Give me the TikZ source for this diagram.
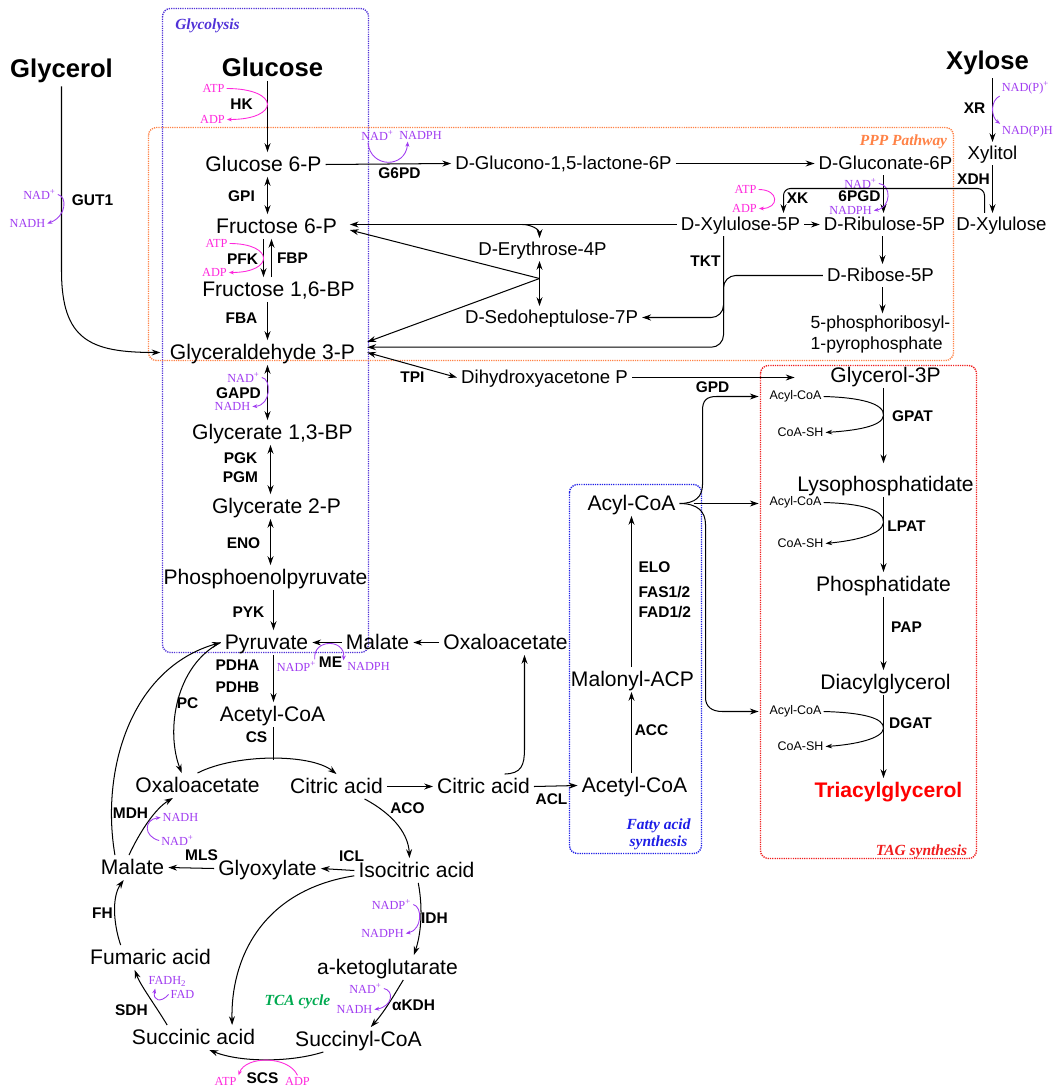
\documentclass[tikz,border=0pt]{standalone}
\usepackage{fontspec}
\setmainfont{Liberation Sans}
\newfontfamily\serifx{Liberation Serif}
\usetikzlibrary{arrows.meta,calc}
\newcommand\myfs[1]{\fontsize{#1}{#1}\selectfont}
\definecolor{glyc}{RGB}{80,50,215}
\definecolor{pppc}{RGB}{255,130,70}
\definecolor{tagc}{RGB}{240,30,30}
\definecolor{fac}{RGB}{30,30,230}
\definecolor{tcac}{RGB}{0,170,80}
\definecolor{cofp}{RGB}{160,60,240}
\definecolor{cofm}{RGB}{255,40,220}
\begin{document}
\begin{tikzpicture}[x=0.02cm,y=-0.02cm,
  >={Stealth[length=5pt,width=3.4pt]},
  met/.style={font=\myfs{12}, inner sep=2.2pt, text height=8.6pt, text depth=0.8pt},
  pmet/.style={font=\myfs{10.6}, inner sep=2.2pt, text height=7.6pt, text depth=0.7pt},
  big/.style={font=\bfseries\myfs{14.6}, inner sep=2pt},
  enz/.style={font=\bfseries\myfs{8.8}, inner sep=1pt},
  cof/.style={font=\serifx\myfs{7}, text=cofp, inner sep=1pt},
  atp/.style={cof, text=cofm},
  sml/.style={font=\myfs{7.1}, inner sep=1pt},
  boxlab/.style={font=\serifx\bfseries\itshape\myfs{8.8}},
  ln/.style={line width=0.58pt},
  carr/.style={line width=0.5pt, -{Stealth[length=2.8pt,width=2.2pt]}},
  tln/.style={line width=0.55pt, -{Stealth[length=3.8pt,width=2.6pt]}},
  pbox/.style={line width=0.8pt, dash pattern=on 0.7pt off 0.6pt, rounded corners=4.5pt}
]
\useasboundingbox (0,0) rectangle (1053,1088);
\begin{scope}[shift={(0.5,0.5)}]
% ---------- boxes ----------
\draw[pbox, draw=glyc] (162,8) rectangle (368,652);
\draw[pbox, draw=pppc] (148,127) rectangle (953,360);
\draw[pbox, draw=tagc] (760,365) rectangle (976,858);
\draw[pbox, draw=fac] (569,484) rectangle (701,853);
\node[boxlab, text=glyc] (lglyc) at (207,25) {Glycolysis};
\node[boxlab, text=pppc] (lppp) at (903,141) {PPP Pathway};
\node[boxlab, text=tagc] (ltag) at (921,851) {TAG synthesis};
\node[boxlab, text=fac, align=center, font=\serifx\bfseries\itshape\fontsize{8.8}{9.8}\selectfont] (lfa) at (658,834) {Fatty acid\\synthesis};
\node[boxlab, text=tcac] (ltca) at (297,1001) {TCA cycle};

% ---------- metabolites ----------
\node[big] (glycerol) at (61,70) {Glycerol};
\node[big] (glucose) at (272,67) {Glucose};
\node[big] (xylose) at (987,62) {Xylose};

\node[met] (g6p) at (263,164) {Glucose 6-P};
\node[met] (f6p) at (276,226) {Fructose 6-P};
\node[met] (fbp) at (278,289) {Fructose 1,6-BP};
\node[met] (g3p) at (262,352) {Glyceraldehyde 3-P};
\node[met] (g13bp) at (272,432) {Glycerate 1,3-BP};
\node[met] (g2p) at (276,506) {Glycerate 2-P};
\node[met] (pep) at (265,577) {Phosphoenolpyruvate};
\node[met] (pyr) at (266,642) {Pyruvate};
\node[met] (accoa) at (272,714) {Acetyl-CoA};
\node[met] (oaa) at (197,785) {Oxaloacetate};
\node[met] (cit) at (336,786) {Citric acid};
\node[met] (icit) at (416,870) {Isocitric acid};
\node[met] (glyox) at (267,868) {Glyoxylate};
\node[met] (mal) at (132,867) {Malate};
\node[met] (fum) at (150,957) {Fumaric acid};
\node[met] (akg) at (387,967) {a-ketoglutarate};
\node[met] (sucoa) at (358,1039) {Succinyl-CoA};
\node[met] (succ) at (193,1037) {Succinic acid};
\node[met] (mal2) at (377,642) {Malate};
\node[met] (oaa2) at (505,642) {Oxaloacetate};
\node[met] (cit2) at (483,786) {Citric acid};
\node[met] (accoa2) at (634,785) {Acetyl-CoA};
\node[met] (malacp) at (632,679) {Malonyl-ACP};
\node[met] (acyl) at (631,503) {Acyl-CoA};

\node[pmet] (glac) at (563,163) {D-Glucono-1,5-lactone-6P};
\node[pmet] (gcn) at (885,163) {D-Gluconate-6P};
\node[pmet] (xu5p) at (740,224) {D-Xylulose-5P};
\node[pmet] (ru5p) at (884,224) {D-Ribulose-5P};
\node[pmet] (xylulose) at (1001,224) {D-Xylulose};
\node[pmet] (xylitol) at (992,153) {Xylitol};
\node[pmet] (e4p) at (542,249) {D-Erythrose-4P};
\node[pmet] (s7p) at (551,317) {D-Sedoheptulose-7P};
\node[pmet] (r5p) at (880,275) {D-Ribose-5P};
\node[align=left, font=\fontsize{10}{12.4}\selectfont, inner sep=1pt] (prpp) at (880,334) {5-phosphoribosyl-\\1-pyrophosphate};
\node[pmet] (dhap) at (544,377) {Dihydroxyacetone P};

\node[met] (g3pt) at (885,375) {Glycerol-3P};
\node[met] (lpa) at (885,484) {Lysophosphatidate};
\node[met] (pa) at (883,584) {Phosphatidate};
\node[met] (dag) at (885,682) {Diacylglycerol};
\node[met, font=\bfseries\myfs{12}, text=red] (tagn) at (888,790) {Triacylglycerol};
\node[sml] (acyl1) at (795,396) {Acyl-CoA};
\node[sml] (coa1) at (800,432) {CoA-SH};
\node[sml] (acyl2) at (795,502) {Acyl-CoA};
\node[sml] (coa2) at (800,543) {CoA-SH};
\node[sml] (acyl3) at (795,711) {Acyl-CoA};
\node[sml] (coa3) at (800,746) {CoA-SH};

% ---------- enzymes ----------
\node[enz] (hk) at (241,104) {HK};
\node[enz] (gpi) at (241,196) {GPI};
\node[enz] (pfk) at (242,259) {PFK};
\node[enz] (fbpase) at (292,258) {FBP};
\node[enz] (fba) at (241,318) {FBA};
\node[enz] (gapd) at (238,393) {GAPD};
\node[enz] (pgk) at (240,458) {PGK};
\node[enz] (pgm) at (240,477) {PGM};
\node[enz] (eno) at (243,543) {ENO};
\node[enz] (pyk) at (248,612) {PYK};
\node[enz] (pdha) at (237,665) {PDHA};
\node[enz] (pdhb) at (237,687) {PDHB};
\node[enz] (cs) at (256,737) {CS};
\node[enz] (pc) at (187,703) {PC};
\node[enz] (me) at (330,662) {ME};
\node[enz] (g6pd) at (399,173) {G6PD};
\node[enz] (gut1) at (92,200) {GUT1};
\node[enz] (xr) at (974,108) {XR};
\node[enz] (xdh) at (973,179) {XDH};
\node[enz] (xk) at (797,198) {XK};
\node[enz] (pgd) at (859,196) {6PGD};
\node[enz] (tkt) at (705,261) {TKT};
\node[enz] (tpi) at (412,377) {TPI};
\node[enz] (gpd) at (712,387) {GPD};
\node[enz] (acl) at (551,799) {ACL};
\node[enz] (acc) at (651,730) {ACC};
\node[enz, anchor=west] (elo) at (636,567) {ELO};
\node[enz, anchor=west] (fas) at (636,592) {FAS1/2};
\node[enz, anchor=west] (fad) at (636,612) {FAD1/2};
\node[enz] (aco) at (407,808) {ACO};
\node[enz] (icl) at (351,856) {ICL};
\node[enz] (mls) at (201,855) {MLS};
\node[enz] (mdh) at (130,813) {MDH};
\node[enz] (fh) at (102,913) {FH};
\node[enz] (idh) at (434,918) {IDH};
\node[enz] (akdh) at (413,1005) {αKDH};
\node[enz] (sdh) at (131,1010) {SDH};
\node[enz] (scs) at (262,1078) {SCS};
\node[enz] (gpat) at (912,416) {GPAT};
\node[enz] (lpat) at (906,526) {LPAT};
\node[enz] (pap) at (906,627) {PAP};
\node[enz] (dgat) at (910,723) {DGAT};

% ---------- cofactors ----------
\node[atp] (hkatp) at (213,88) {ATP};
\node[atp] (hkadp) at (212,119) {ADP};
\node[atp] (pfkatp) at (216,243) {ATP};
\node[atp] (pfkadp) at (214,272) {ADP};
\node[cof] (gutnad) at (39,194) {NAD\textsuperscript{+}};
\node[cof] (gutnadh) at (27,223) {NADH};
\node[cof] (g6pdnad) at (377,135) {NAD\textsuperscript{+}};
\node[cof] (g6pdnadph) at (420,135) {NADPH};
\node[cof] (xrnad) at (1025,87) {NAD(P)\textsuperscript{+}};
\node[cof] (xrnadh) at (1027,131) {NAD(P)H};
\node[atp] (xkatp) at (745,189) {ATP};
\node[atp] (xkadp) at (744,208) {ADP};
\node[cof] (pgdnad) at (860,183) {NAD\textsuperscript{+}};
\node[cof] (pgdnadph) at (850,210) {NADPH};
\node[cof] (gapdnad) at (243,377) {NAD\textsuperscript{+}};
\node[cof] (gapdnadh) at (232,406) {NADH};
\node[cof] (menadp) at (296,666) {NADP\textsuperscript{+}};
\node[cof] (menadph) at (368,666) {NADPH};
\node[cof] (mdhnadh) at (180,817) {NADH};
\node[cof] (mdhnad) at (177,840) {NAD\textsuperscript{+}};
\node[cof] (idhnadp) at (391,904) {NADP\textsuperscript{+}};
\node[cof] (idhnadph) at (382,933) {NADPH};
\node[cof] (akdhnad) at (365,988) {NAD\textsuperscript{+}};
\node[cof] (akdhnadh) at (354,1009) {NADH};
\node[cof] (sdhfadh) at (167,981) {FADH\textsubscript{2}};
\node[cof] (sdhfad) at (182,994) {FAD};
\node[atp] (scsatp) at (225,1081) {ATP};
\node[atp] (scsadp) at (297,1081) {ADP};

% ---------- helper coordinates ----------
\coordinate (cA) at (267,0);
\coordinate (cPFK) at (263,0);
\coordinate (cFBP) at (271,0);
\coordinate (cB) at (270,0);
\coordinate (cC) at (273,0);
\coordinate (c524) at (524,0);
\coordinate (c883) at (883,0);
\coordinate (c882) at (882,0);
\coordinate (c992) at (992,0);
\coordinate (c984) at (984,0);
\coordinate (c723) at (723,0);
\coordinate (c631) at (631,0);
\coordinate (xkc) at (783,188);
\coordinate (jn) at (539,278);
\coordinate (e4pbr) at (522,224);
\coordinate (tkt2) at (723,300);
\coordinate (csj) at (273,759);
\coordinate (glycbend) at (61,270);
\coordinate (f6pin) at ([xshift=5pt]f6p.east);
\coordinate (gpdend) at ([xshift=-18pt]g3pt.west);

% ---------- glycolysis ----------
\draw[ln,->] (glucose.south -| cA) -- (g6p.north -| cA);
\draw[ln,<->] (g6p.south -| cA) -- (f6p.north -| cA);
\draw[ln,->] (f6p.south -| cPFK) -- (fbp.north -| cPFK);
\draw[ln,->] (fbp.north -| cFBP) -- (f6p.south -| cFBP);
\draw[ln,->] (fbp.south -| cA) -- (g3p.north -| cA);
\draw[ln,<->] (g3p.south -| cA) -- (g13bp.north -| cA);
\draw[ln,<->] (g13bp.south -| cB) -- (g2p.north -| cB);
\draw[ln,<->] (g2p.south -| cB) -- (pep.north -| cB);
\draw[ln,->] (pep.south -| cC) -- (pyr.north -| cC);
\draw[ln,->] (pyr.south -| cC) -- (accoa.north -| cC);
\draw[ln] (accoa.south -| cC) -- (csj);

\draw[carr, draw=cofm] (hkatp.east) .. controls (280,88) and (280,119) .. (hkadp.east);
\draw[carr, draw=cofm] (pfkatp.east) .. controls (274,243) and (274,272) .. (pfkadp.east);
\draw[carr, draw=cofp] (gapdnad.east) .. controls (271,378) and (271,405) .. (gapdnadh.east);

% glycerol
\draw[ln,->] (glycerol.south) -- (glycbend) .. controls (61,340) and (90,352) .. ([xshift=-3pt]g3p.west);
\draw[carr, draw=cofp] (gutnad.east) .. controls (67,196) and (66,216) .. (gutnadh.east);

% ---------- PPP ----------
\draw[ln,->] (g6p.east) -- (glac.west);
\draw[carr, draw=cofp] ([xshift=5pt]g6pdnad.south west) .. controls (370,168) and (405,168) .. ([xshift=6pt]g6pdnadph.south west);
\draw[ln,->] (glac.east) -- (gcn.west);
\draw[ln,->] (gcn.south -| c883) -- (ru5p.north -| c883);
\draw[carr, draw=cofp] (pgdnad.east) .. controls (891,184) and (891,207) .. (pgdnadph.east);
\draw[ln,->] (xylose.south -| c992) -- (xylitol.north -| c992);
\draw[carr, draw=cofp] (xrnad.south west) .. controls (990,100) and (990,116) .. (xrnadh.north west);
\draw[ln,->] (xylitol.south -| c992) -- (xylulose.north -| c992);
\draw[ln,->,rounded corners=4pt] (xylulose.north -| c984) |- (xkc) -- (xu5p.north -| xkc);
\draw[carr, draw=cofm] (xkatp.east) .. controls (779,189) and (779,208) .. (xkadp.east);
\draw[ln,->] (xu5p.east) -- (ru5p.west);
\draw[ln,->] (ru5p.south -| c882) -- (r5p.north -| c882);
\draw[ln,->] (r5p.south -| c882) -- (prpp.north -| c882);
\draw[ln,->] (xu5p.west) -- (f6pin |- xu5p.west);
\draw[ln,->] (e4pbr) to[out=0,in=90] (e4p.north -| jn);
\draw[ln,<->] (e4p.south -| jn) -- (s7p.north -| jn);
\draw[ln,->] (jn) -- ([xshift=5pt,yshift=-2pt]f6p.east);
\draw[ln,->] (jn) -- ([xshift=4.5pt,yshift=6pt]g3p.east);
\draw[ln,->,rounded corners=7pt] (xu5p.south -| c723) |- ([xshift=4.5pt,yshift=3pt]g3p.east);
\draw[ln,->,rounded corners=7pt] (r5p.west) -| (tkt2) |- (s7p.east);
\draw[ln,<->] ([xshift=4.5pt]g3p.east) -- (dhap.west);
\draw[ln,->] (dhap.east) -- (dhap.east -| gpdend);

% ---------- pyruvate / TCA ----------
\draw[ln,->] (oaa2.west) -- (mal2.east);
\draw[ln,->] (mal2.west) -- (pyr.east);
\draw[carr, draw=cofp] ([xshift=-2pt]menadp.north east) .. controls (312,638) and (345,638) .. ([xshift=-1pt]menadph.north west);
\draw[ln,->] ([xshift=12pt]cit2.north) .. controls (521,773) and (524,765) .. (524,748) -- (oaa2.south -| c524);
\draw[ln,->] (cit.east) -- (cit2.west);
\draw[ln,->] (cit2.east) -- (accoa2.west);

\draw[ln,->] (pyr.west) .. controls (175,665) and (165,730) .. ([xshift=-9pt]oaa.north);
\draw[ln,->] ([xshift=-10pt]mal.north) .. controls (100,770) and (130,668) .. (pyr.west);
\draw[ln,->] (oaa.north) .. controls (235,753) and (310,753) .. (cit.north);
\draw[ln,->] ([xshift=16pt]cit.south) .. controls (395,815) and (408,835) .. ([xshift=-4pt]icit.north);
\draw[ln,->] (icit.west) -- (glyox.east);
\draw[ln,->] (glyox.west) -- (mal.east);
\draw[ln,->] ([yshift=-3pt]icit.west) .. controls (260,890) and (230,960) .. ([xshift=22pt]succ.north);
\draw[ln,->] ([xshift=1pt]icit.south) .. controls (423,910) and (420,935) .. ([xshift=15pt]akg.north);
\draw[carr, draw=cofp] (idhnadp.east) .. controls (422,906) and (422,929) .. (idhnadph.east);
\draw[ln,->] ([xshift=9pt]akg.south) .. controls (395,992) and (385,1010) .. ([xshift=7pt]sucoa.north);
\draw[carr, draw=cofp] (akdhnad.east) .. controls (394,990) and (392,1006) .. (akdhnadh.east);
\draw[ln,->] ([xshift=-20pt]sucoa.south) .. controls (290,1062) and (240,1062) .. ([xshift=9pt]succ.south);
\draw[carr, draw=cofm] (scsadp.north) .. controls (288,1055) and (245,1055) .. (scsatp.north east);
\draw[ln,->] ([xshift=-15pt]succ.north) .. controls (155,1005) and (140,985) .. ([xshift=-9pt]fum.south);
\draw[carr, draw=cofp] (sdhfad.west) .. controls (160,1003) and (152,1000) .. ([xshift=-7pt]sdhfadh.south);
\draw[ln,->] ([xshift=-17pt]fum.north) .. controls (112,920) and (112,895) .. ([xshift=-5pt]mal.south);
\draw[ln,->] ([xshift=-2pt]mal.north) .. controls (140,830) and (155,808) .. ([xshift=-14pt]oaa.south);
\draw[carr, draw=cofp] (mdhnad.west) .. controls (143,836) and (143,819) .. (mdhnadh.west);

% ---------- fatty acid ----------
\draw[ln,->] (accoa2.north -| c631) -- (malacp.south -| c631);
\draw[ln,->] (malacp.north -| c631) -- (acyl.south -| c631);
\draw[ln,->] (acyl.east) .. controls (695,503) and (702,496) .. (702,484) -- (702,410) .. controls (702,400) and (706,396) .. (716,396) -- ([xshift=-5pt]acyl1.west);
\draw[ln,->] ([xshift=8pt]acyl.east) -- ([xshift=-5pt]acyl2.west |- acyl.east);
\draw[ln,->] (acyl.east) .. controls (697,503) and (705,511) .. (705,524) -- (705,697) .. controls (705,706) and (711,711) .. (722,711) -- ([xshift=-5pt]acyl3.west);

% ---------- TAG ----------
\draw[ln,->,shorten >=5pt] (g3pt.south -| c883) -- (lpa.north -| c883);
\draw[ln,->] (lpa.south -| c883) -- (pa.north -| c883);
\draw[ln,->] (pa.south -| c883) -- (dag.north -| c883);
\draw[ln,->] (dag.south -| c883) -- (tagn.north -| c883);
\draw[tln] (acyl1.east) .. controls (860,397) and (884,403) .. (883,415) .. controls (882,426) and (855,430) .. (coa1.east);
\draw[tln] (acyl2.east) .. controls (860,503) and (884,509) .. (883,522) .. controls (882,534) and (855,540) .. (coa2.east);
\draw[tln] (acyl3.east) .. controls (860,712) and (884,717) .. (883,728) .. controls (882,738) and (855,744) .. (coa3.east);
\end{scope}
\end{tikzpicture}
\end{document}
